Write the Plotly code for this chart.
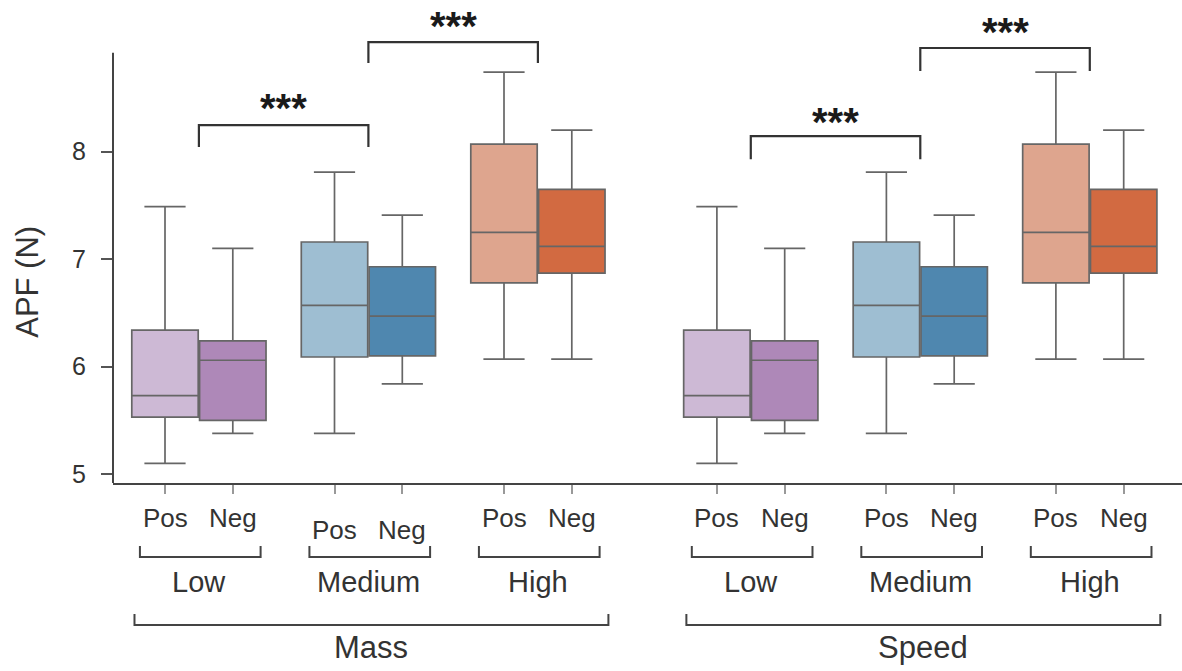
import plotly.graph_objects as go

# ---------------- data ----------------
factors = ["Mass", "Speed"]
levels = ["Low", "Medium", "High"]
conditions = ["Pos", "Neg"]

# per factor, order: Low Pos, Low Neg, Medium Pos, Medium Neg, High Pos, High Neg
mass_q1 = [5.53, 5.50, 6.09, 6.10, 6.78, 6.87]
mass_median = [5.73, 6.06, 6.57, 6.47, 7.25, 7.12]
mass_q3 = [6.34, 6.24, 7.16, 6.93, 8.07, 7.65]
mass_low = [5.10, 5.38, 5.38, 5.84, 6.07, 6.07]
mass_high = [7.49, 7.10, 7.81, 7.41, 8.74, 8.20]

speed_q1 = [5.53, 5.50, 6.09, 6.10, 6.78, 6.87]
speed_median = [5.73, 6.06, 6.57, 6.47, 7.25, 7.12]
speed_q3 = [6.34, 6.24, 7.16, 6.93, 8.07, 7.65]
speed_low = [5.10, 5.38, 5.38, 5.84, 6.07, 6.07]
speed_high = [7.49, 7.10, 7.81, 7.41, 8.74, 8.20]

y_ticks = [5, 6, 7, 8]
sig_label = "***"

# ---------------- styling / layout ----------------
fills = ["#CDB9D5", "#AE88B8", "#9EBED2", "#4F87AF", "#DEA58E", "#D26A41"]
FONT = "Liberation Sans, Arial, sans-serif"
TXT = "#333333"
W, H = 1182, 671
T, B, L, R = 5, 188, 113, 0
PLOT_H = H - T - B
YR = [4.918, 9.365]
XR = [-0.767, 15.0]
SPEED_OFF = 8.14


def ppaper(ypix):
    return (H - B - ypix) / PLOT_H


def positions(offset):
    base = [0, 1, 2.5, 3.5, 5, 6]
    return [b + offset for b in base]


fig = go.Figure()
series = {
    "Mass": (positions(0), mass_q1, mass_median, mass_q3, mass_low, mass_high),
    "Speed": (positions(SPEED_OFF), speed_q1, speed_median, speed_q3, speed_low, speed_high),
}
for fac, (xs, q1, med, q3, lo, hi) in series.items():
    for i in range(6):
        fig.add_trace(go.Box(
            x=[xs[i]], q1=[q1[i]], median=[med[i]], q3=[q3[i]],
            lowerfence=[lo[i]], upperfence=[hi[i]],
            width=0.98, whiskerwidth=0.62, boxpoints=False,
            fillcolor=fills[i], line=dict(color="#666666", width=1.7),
            name=f"{fac} {levels[i // 2]} {conditions[i % 2]}", showlegend=False,
        ))

shapes = []
annotations = []
# y axis line (stops at top of original axis)
shapes.append(dict(type="line", xref="paper", yref="y", x0=0, x1=0, y0=YR[0], y1=8.92,
                   line=dict(color="#444", width=2)))

# significance brackets: (factor offset, from group, to group, top y, leg bottom y, star y)
brackets = [
    (0, 0, 1, 8.248, 8.044, 8.406),
    (0, 1, 2, 9.02, 8.825, 9.169),
    (SPEED_OFF, 0, 1, 8.146, 7.93, 8.276),
    (SPEED_OFF, 1, 2, 8.965, 8.75, 9.114),
]
for off, g0, g1, ytop, ybot, ystar in brackets:
    pos = positions(off)
    xa = (pos[2 * g0] + pos[2 * g0 + 1]) / 2
    xb = (pos[2 * g1] + pos[2 * g1 + 1]) / 2
    shapes.append(dict(type="path", xref="x", yref="y",
                       path=f"M {xa},{ybot} L {xa},{ytop} L {xb},{ytop} L {xb},{ybot}",
                       line=dict(color="#333", width=2.2)))
    annotations.append(dict(x=(xa + xb) / 2, y=ystar, xref="x", yref="y", text=sig_label,
                            showarrow=False, yanchor="middle",
                            font=dict(family=FONT, size=40, color="#1a1a1a", weight="bold")))

# category labels below the axis
for fac, off in zip(factors, [0, SPEED_OFF]):
    pos = positions(off)
    for g, lev in enumerate(levels):
        ylab = 530 if (fac == "Mass" and lev == "Medium") else 518
        for c, cond in enumerate(conditions):
            annotations.append(dict(x=pos[2 * g + c], y=ppaper(ylab), xref="x", yref="paper",
                                    text=cond, showarrow=False, yanchor="middle",
                                    font=dict(family=FONT, size=26, color=TXT)))
        xa, xb = pos[2 * g] - 0.37, pos[2 * g + 1] + 0.41
        shapes.append(dict(type="path", xref="x", yref="paper",
                           path=f"M {xa},{ppaper(546)} L {xa},{ppaper(557)} L {xb},{ppaper(557)} L {xb},{ppaper(546)}",
                           line=dict(color="#444", width=2)))
        annotations.append(dict(x=(pos[2 * g] + pos[2 * g + 1]) / 2, y=ppaper(582), xref="x", yref="paper",
                                text=lev, showarrow=False, yanchor="middle",
                                font=dict(family=FONT, size=29, color=TXT)))
    xa, xb = pos[0] - 0.45, pos[-1] + 0.54
    shapes.append(dict(type="path", xref="x", yref="paper",
                       path=f"M {xa},{ppaper(614)} L {xa},{ppaper(625)} L {xb},{ppaper(625)} L {xb},{ppaper(614)}",
                       line=dict(color="#444", width=2)))
    annotations.append(dict(x=(xa + xb) / 2, y=ppaper(648), xref="x", yref="paper",
                            text=fac, showarrow=False, yanchor="middle",
                            font=dict(family=FONT, size=31, color=TXT)))

# y-axis title
annotations.append(dict(x=0, xref="paper", xshift=-85, y=6.79, yref="y", text="APF (N)",
                        textangle=-90, showarrow=False, xanchor="center", yanchor="middle",
                        font=dict(family=FONT, size=31, color=TXT)))

all_pos = positions(0) + positions(SPEED_OFF)
fig.update_layout(
    width=W, height=H, margin=dict(l=L, r=R, t=T, b=B),
    paper_bgcolor="white", plot_bgcolor="white",
    shapes=shapes, annotations=annotations, showlegend=False,
    xaxis=dict(range=XR, showgrid=False, zeroline=False, showline=True, linecolor="#444",
               linewidth=2, tickvals=all_pos, ticks="outside", ticklen=9, tickwidth=1.5,
               tickcolor="#999", showticklabels=False),
    yaxis=dict(range=YR, showgrid=False, zeroline=False, showline=False, tickvals=y_ticks,
               ticks="outside", ticklen=11, tickwidth=1.5, tickcolor="#555",
               ticklabelstandoff=10,
               tickfont=dict(family=FONT, size=25, color=TXT)),
)

fig.write_html("out.html")
